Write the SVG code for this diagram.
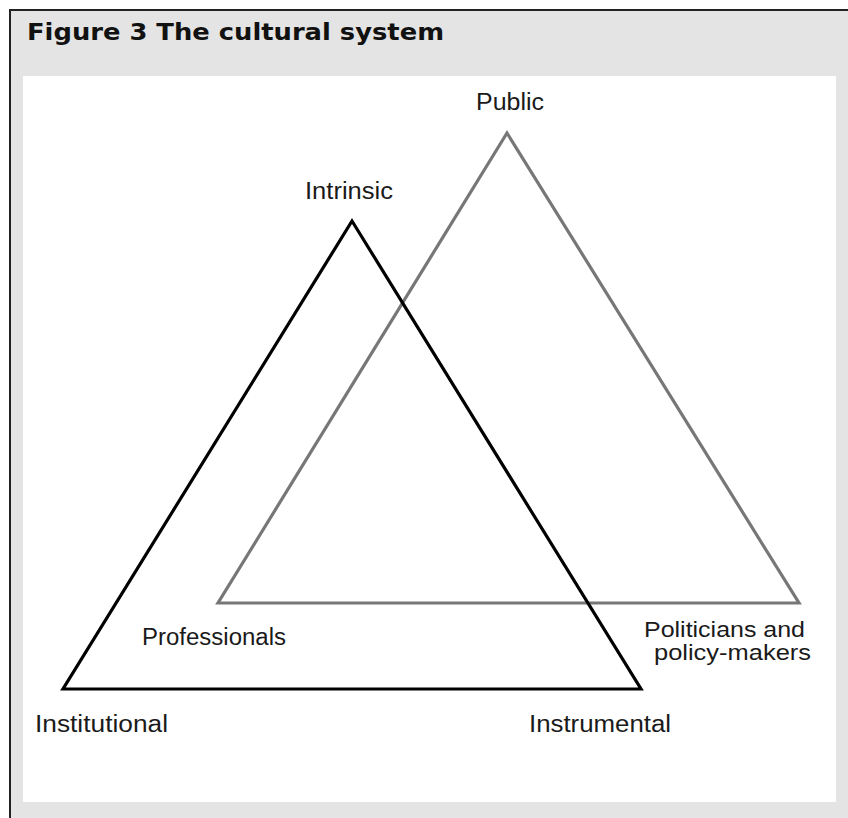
<svg xmlns="http://www.w3.org/2000/svg" width="848" height="818" viewBox="0 0 848 818">
<style>
.lbl{font-family:"Liberation Sans",Arial,sans-serif;font-size:23px;fill:#1a1a1a}
.lbl2{font-family:"Liberation Sans",Arial,sans-serif;font-size:22px;fill:#1a1a1a}
.title{font-family:"DejaVu Sans","Liberation Sans",sans-serif;font-weight:bold;font-size:23px;fill:#111}
.tri{fill:none;stroke-width:3.2;stroke-linejoin:miter}
</style>
<rect x="0" y="0" width="848" height="818" fill="#ffffff"/>
<rect x="10" y="10" width="838" height="808" fill="#e4e4e4"/>
<line x1="9" y1="10" x2="848" y2="10" stroke="#222" stroke-width="2"/>
<line x1="10" y1="9" x2="10" y2="818" stroke="#222" stroke-width="2"/>
<rect x="23" y="76" width="813" height="726" fill="#ffffff"/>
<text class="title" x="27" y="40" textLength="417" lengthAdjust="spacingAndGlyphs">Figure 3 The cultural system</text>
<g id="connectors">
<polygon id="tri-public" class="tri" stroke="#777777" points="507,133 799,603 218,603"/>
<polygon id="tri-intrinsic" class="tri" stroke="#000000" points="352,221 641,689 63,689"/>
</g>
<g id="node-public"><text class="lbl" x="476" y="110" textLength="68" lengthAdjust="spacingAndGlyphs">Public</text></g>
<g id="node-intrinsic"><text class="lbl" x="305" y="199" textLength="88" lengthAdjust="spacingAndGlyphs">Intrinsic</text></g>
<g id="node-professionals"><text class="lbl" x="142" y="645" textLength="144" lengthAdjust="spacingAndGlyphs">Professionals</text></g>
<g id="node-politicians"><text class="lbl2" x="644" y="637" textLength="161" lengthAdjust="spacingAndGlyphs">Politicians and</text><text class="lbl2" x="654" y="660" textLength="157" lengthAdjust="spacingAndGlyphs">policy-makers</text></g>
<g id="node-institutional"><text class="lbl" x="35" y="732" textLength="133" lengthAdjust="spacingAndGlyphs">Institutional</text></g>
<g id="node-instrumental"><text class="lbl" x="529" y="732" textLength="142" lengthAdjust="spacingAndGlyphs">Instrumental</text></g>
</svg>
